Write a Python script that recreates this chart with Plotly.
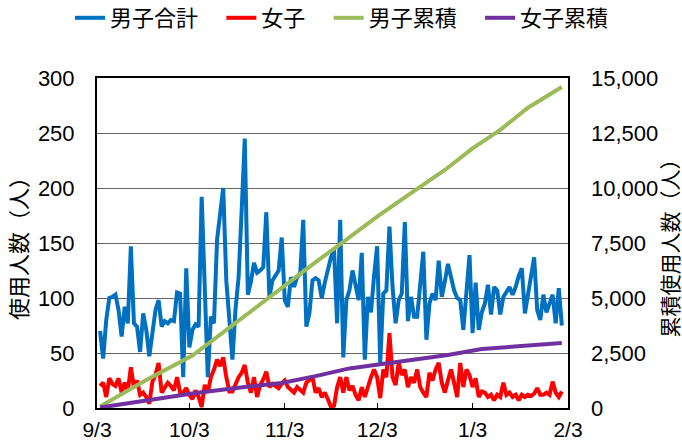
import pandas as pd
import plotly.graph_objects as go

# ---- data ----
start_date = "2019-09-04"
boys_total = [70, 45, 80, 100, 101, 103, 89, 65, 92, 77, 147, 77, 74, 51, 86, 71, 47, 70, 89, 98,
              74, 79, 77, 80, 79, 105, 104, 28, 127, 55, 71, 76, 74, 192, 100, 28, 83, 77, 153, 175,
              200, 116, 80, 44, 90, 119, 180, 245, 103, 115, 132, 123, 125, 128, 178, 101, 116, 120, 125, 155,
              98, 92, 119, 110, 119, 122, 171, 74, 86, 116, 118, 116, 100, 114, 125, 137, 144, 77, 171, 46,
              98, 107, 125, 110, 98, 141, 44, 101, 87, 120, 147, 41, 104, 107, 165, 110, 77, 98, 104, 169,
              79, 101, 83, 83, 110, 142, 62, 95, 104, 98, 134, 101, 115, 131, 119, 107, 100, 98, 71, 107,
              139, 68, 114, 71, 87, 95, 112, 85, 110, 107, 85, 101, 105, 110, 103, 110, 120, 127, 86, 101,
              120, 137, 89, 80, 103, 87, 95, 103, 77, 109, 75]
girls = [20, 23, 10, 27, 22, 20, 27, 14, 23, 15, 37, 19, 25, 12, 14, 10, 4, 24, 30, 41,
         14, 18, 23, 20, 16, 28, 14, 14, 18, 12, 8, 16, 10, 1, 21, 14, 28, 35, 44, 38,
         46, 28, 15, 15, 22, 28, 32, 39, 23, 14, 28, 10, 21, 26, 33, 19, 22, 20, 18, 22,
         25, 19, 17, 14, 19, 16, 14, 23, 25, 28, 14, 18, 10, 14, 8, 1, 2, 19, 28, 14,
         28, 16, 20, 12, 7, 19, 10, 20, 28, 35, 28, 9, 35, 28, 68, 28, 21, 41, 30, 35,
         19, 28, 23, 35, 19, 14, 10, 32, 25, 35, 41, 23, 14, 25, 35, 23, 10, 41, 19, 35,
         30, 19, 27, 10, 15, 14, 10, 12, 7, 12, 10, 23, 12, 14, 10, 12, 7, 12, 10, 12,
         11, 13, 18, 12, 12, 14, 12, 24, 14, 10, 15]

boys_cum_dates = ["2019-09-04", "2019-09-19", "2019-10-04", "2019-10-14", "2019-10-25",
                  "2019-11-03", "2019-11-14", "2019-11-22", "2019-12-03", "2019-12-14",
                  "2019-12-25", "2020-01-03", "2020-01-12", "2020-01-21", "2020-02-01"]
boys_cum = [70, 1270, 2380, 3450, 4590, 5550, 6730, 7550, 8700, 9770,
            10820, 11800, 12640, 13650, 14590]
girls_cum_dates = ["2019-09-04", "2019-09-19", "2019-10-05", "2019-10-21", "2019-11-02",
                   "2019-11-13", "2019-11-24", "2019-12-04", "2019-12-15", "2019-12-26",
                   "2020-01-06", "2020-01-19", "2020-02-01"]
girls_cum = [20, 340, 680, 950, 1140, 1450, 1800, 1990, 2180, 2410, 2680, 2820, 2950]

series_names = ["男子合計", "女子", "男子累積", "女子累積"]
tick_dates = ["2019-09-03", "2019-10-03", "2019-11-03", "2019-12-03", "2020-01-03", "2020-02-03"]
tick_labels = ["9/3", "10/3", "11/3", "12/3", "1/3", "2/3"]

dates = pd.date_range(start_date, periods=len(boys_total))

FONT = "Liberation Sans, Arial, Noto Sans CJK JP, sans-serif"
TICK = 22
LW = 4
PAD = "\u00a0" * 3  # spacing between legend entries

fig = go.Figure()
fig.add_trace(go.Scatter(x=dates, y=boys_total, name=series_names[0] + PAD, mode="lines",
                         line=dict(color="#0070C0", width=LW)))
fig.add_trace(go.Scatter(x=dates, y=girls, name=series_names[1] + PAD, mode="lines",
                         line=dict(color="#FF0000", width=LW)))
fig.add_trace(go.Scatter(x=pd.to_datetime(boys_cum_dates), y=boys_cum, name=series_names[2] + PAD,
                         mode="lines", line=dict(color="#9BBB59", width=LW), yaxis="y2"))
fig.add_trace(go.Scatter(x=pd.to_datetime(girls_cum_dates), y=girls_cum, name=series_names[3],
                         mode="lines", line=dict(color="#7030A0", width=LW), yaxis="y2"))

fig.update_layout(
    template="none",
    width=682, height=443,
    margin=dict(l=97, r=114, t=78, b=35, autoexpand=False),
    paper_bgcolor="white", plot_bgcolor="white",
    font=dict(family=FONT, size=TICK, color="black"),
    showlegend=True,
    legend=dict(orientation="h", xref="paper", yref="paper",
                x=(70 - 97) / 471, xanchor="left", y=1 + (78 - 18) / 330, yanchor="middle",
                font=dict(size=22), itemwidth=30, bgcolor="rgba(0,0,0,0)"),
    xaxis=dict(type="date", range=["2019-09-03", "2020-02-03"], automargin=False,
               tickmode="array", tickvals=tick_dates, ticktext=tick_labels,
               ticks="inside", ticklen=5, tickcolor="black", tickwidth=1,
               showgrid=False, showline=True, linecolor="black", linewidth=2,
               mirror=True, zeroline=False, tickfont=dict(size=21),
               ticklabelstandoff=2),
    yaxis=dict(range=[0, 300], dtick=50, showgrid=True, gridcolor="#666666", gridwidth=1,
               showline=True, linecolor="black", linewidth=2, mirror=True, zeroline=False,
               automargin=False, ticks="", tickfont=dict(size=TICK), ticklabelstandoff=16,
               title=dict(text="使用人数（人）", font=dict(size=22), standoff=4)),
    yaxis2=dict(range=[0, 15000], dtick=2500, tickformat=",", overlaying="y", side="right",
                showgrid=False, zeroline=False, showline=False, ticks="", automargin=False,
                tickfont=dict(size=TICK), ticklabelstandoff=22,
                title=dict(text="累積使用人数（人）", font=dict(size=21), standoff=8)),
)

fig.write_html("out.html")
